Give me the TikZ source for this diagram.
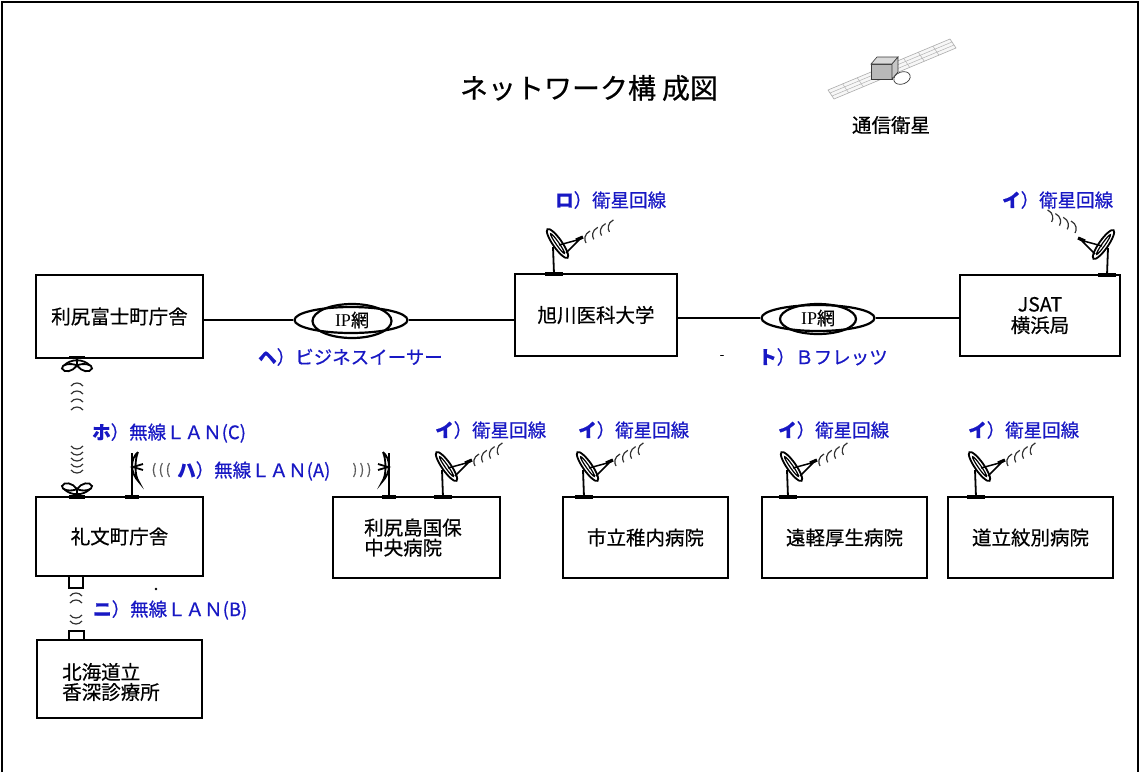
\documentclass[tikz,border=0pt]{standalone}
\usepackage{fontspec}
\setmainfont{Noto Sans CJK JP}[FakeBold=0.5]
\newfontfamily\serifip{Liberation Serif}
\usetikzlibrary{shapes.geometric}
\definecolor{lblue}{RGB}{24,24,196}
\definecolor{sigc}{RGB}{50,50,50}
\begin{document}
\begin{tikzpicture}[x=1pt,y=-1pt,
  box/.style={draw, line width=2.2pt, minimum width=#1, inner sep=0pt, align=center, font=\fontsize{19.5}{24}\selectfont},
  boxh/.style={minimum height=#1},
  lbl/.style={text=lblue, anchor=west, inner sep=0pt, font=\fontsize{18.5}{22}\selectfont},
  txt/.style={inner sep=0pt, font=\fontsize{19.5}{22}\selectfont},
  conn/.style={line width=2.2pt},
  ipnet/.style={ellipse, draw, line width=2.2pt, minimum width=113pt, minimum height=26pt, inner sep=0pt},
  plate/.style={line width=3.2pt},
  ant/.style={line width=1.8pt},
  wave/.style={sigc, line width=1.2pt},
  dish/.pic={
    \draw[plate] (-9,0) -- (9,0);
    \draw[ant] (0,0) -- (-1,-27);
    \draw[line width=1.8pt, fill=white, rotate around={-55:(3.5,-30.5)}] (3.5,-30.5) ellipse (17.5pt and 4.5pt);
    \draw[line width=1.2pt, rotate around={-55:(3.5,-30.5)}] (3.5,-30.5) ellipse (12pt and 1.5pt);
    \draw[line width=1.5pt] (5,-29) -- (27,-35) (12,-21) -- (25,-34);
    \draw[plate] (22,-34) -- (29,-37);
  },
  sig/.pic={
    \foreach \i in {0,...,3}
      \draw[wave, shift={(33+7.8*\i,-37-3.7*\i)}] (3,-6) .. controls (-3,-3) and (-3,3) .. (-1,6);
  },
  petal/.pic={
    \draw[plate] (-8,0) -- (8,0);
    \draw[ant] (0,0) -- (0,7);
    \draw[ant] (-13,8) .. controls (-6,1) and (6,1) .. (13,8);
    \draw[ant] (0,8) .. controls (-6,5) and (-16,7) .. (-15,11) .. controls (-13,16) and (-4,14) .. (0,8);
    \draw[ant] (0,8) .. controls (6,5) and (16,7) .. (15,11) .. controls (13,16) and (4,14) .. (0,8);
  },
  flag/.pic={
    \draw[plate] (-7,0) -- (7,0);
    \draw[ant] (0,0) -- (0,-44);
    \draw[ant] (6,-45) .. controls (-2,-38) and (-2,-24) .. (7,-15)
               .. controls (2,-22) and (3,-38) .. (6,-45);
    \draw[ant] (11,-33) -- (1,-30) -- (11,-27);
  },
  capup/.pic={\draw[wave] (-6,2) .. controls (-3,-2) and (3,-2) .. (6,2);},
  capdown/.pic={\draw[wave] (-6,-2) .. controls (-3,2) and (3,2) .. (6,-2);}
]
\useasboundingbox (0,0) rectangle (1140,772);
\fill[white] (0,0) rectangle (1140,772);

% outer frame
\draw[line width=1.8pt] (2,772) -- (2,2) -- (1138,2) -- (1138,772);

% title
\node[inner sep=0pt, font=\fontsize{28}{32}\selectfont] (title) at (589,88) {ネットワーク構\hspace{6pt}成図};

% communications satellite
\filldraw[fill=gray!6, draw=gray!65, line width=0.6pt] (828,90) -- (950,39) -- (956,48) -- (834,99) -- cycle;
\draw[gray!60, line width=0.5pt] (830,93) -- (952,42) (832,96) -- (954,45);
\foreach \t in {0.12,0.24,0.36,0.62,0.74,0.86}
  \draw[gray!60, line width=0.5pt] (828+122*\t,90-51*\t) -- (834+122*\t,99-51*\t);
\filldraw[fill=gray!55, draw=gray!45!black, line width=0.6pt] (871,64) rectangle (892,79);
\filldraw[fill=gray!30, draw=gray!45!black, line width=0.6pt] (871,64) -- (877,57) -- (898,57) -- (892,64) -- cycle;
\filldraw[fill=gray!45, draw=gray!45!black, line width=0.6pt] (892,64) -- (898,57) -- (898,72) -- (892,79) -- cycle;
\filldraw[fill=white, draw=gray!45!black, line width=0.7pt, rotate around={20:(902,78)}] (902,78) ellipse (8.5pt and 6pt);
\node[txt] (satlbl) at (891,125) {通信衛星};

% sites
\node[box=167pt, boxh=83pt] (rishirifuji) at (119.5,316.5) {利尻富士町庁舎};
\node[box=162pt, boxh=82pt] (asahikawa) at (596,315) {旭川医科大学};
\node[box=160pt, boxh=81pt] (jsat) at (1040,315.5) {JSAT\\[-3pt]横浜局};
\node[box=167pt, boxh=79pt] (rebun) at (119.5,536.5) {礼文町庁舎};
\node[box=167pt, boxh=81pt] (rishiritou) at (416.5,537.5) {};
\node[txt, anchor=west, align=left] (rishiritout) at (364,537.5) {利尻島国保\\[-2pt]中央病院};
\node[box=165pt, boxh=81pt] (wakkanai) at (645.5,537.5) {市立稚内病院};
\node[box=165pt, boxh=81pt] (engaru) at (844.5,537.5) {遠軽厚生病院};
\node[box=165pt, boxh=81pt] (monbetsu) at (1030.5,537.5) {道立紋別病院};
\node[box=165pt, boxh=78pt] (kafuka) at (119.5,679) {};
\node[txt, anchor=west, align=left] (kafukat) at (62,682) {北海道立\\[-2pt]香深診療所};

% IP networks
\node[ipnet] (ip1) at (351,320) {};
\draw[line width=2.2pt] (352,321) ellipse (39.5pt and 17pt);
\node[inner sep=0pt, font=\fontsize{18}{20}\selectfont] (ip1t) at (352,320) {{\serifip IP}網};
\node[ipnet] (ip2) at (818,318) {};
\draw[line width=2.2pt] (818,319) ellipse (38pt and 15pt);
\node[inner sep=0pt, font=\fontsize{18}{20}\selectfont] (ip2t) at (818,318) {{\serifip IP}網};

\draw[conn] (ip1.west) -- (ip1.west -| rishirifuji.east);
\draw[conn] (ip1.east) -- (ip1.east -| asahikawa.west);
\draw[conn] (ip2.west) -- (ip2.west -| asahikawa.east);
\draw[conn] (ip2.east) -- (ip2.east -| jsat.west);

% satellite dishes
\pic at (554,274) {dish};
\pic at (554,274) {sig};
\pic[xscale=-1] at (1107,275) {dish};
\pic[xscale=-1] at (1107,264) {sig};
\pic at (443,497) {dish};
\pic at (443,497) {sig};
\pic at (584,497) {dish};
\pic at (584,497) {sig};
\pic at (788,497) {dish};
\pic at (788,497) {sig};
\pic at (976,497) {dish};
\pic at (976,497) {sig};

% wireless LAN (C)
\pic at (77,357.5) {petal};
\pic[yscale=-1] at (77,497) {petal};
\foreach \y in {384,392,400,408} \pic at (77,\y) {capup};
\foreach \y in {448,454,460,466,472} \pic at (77,\y) {capdown};

% wireless LAN (A)
\pic at (132,497) {flag};
\pic[xscale=-1] at (389,497) {flag};
\node[inner sep=0pt, text=gray!70!black, font=\fontsize{14}{16}\selectfont] (wa1) at (161,470) {(\,(\,(};
\node[inner sep=0pt, text=gray!70!black, font=\fontsize{14}{16}\selectfont] (wa2) at (362,470) {)\,)\,)};

% wireless LAN (B)
\draw[line width=2pt] (69,576) rectangle (83,588);
\draw[line width=2pt] (69,631) rectangle (84,640);
\pic at (76,594) {capup};
\pic at (76,601) {capup};
\pic at (76,617) {capdown};
\pic at (76,623) {capdown};
\fill (156,589) circle (1.4pt);

% line labels
\node[lbl] (l_ro) at (555,200) {\textbf{ロ}）衛星回線};
\node[lbl] (l_i0) at (1002,200) {\textbf{イ}）衛星回線};
\node[lbl] (l_he) at (258,357) {\textbf{ヘ}）ビジネスイーサー};
\node[inner sep=0pt, font=\fontsize{12}{14}\selectfont] (dash) at (722,357) {-};
\node[lbl] (l_to) at (758,357) {\textbf{ト}）Ｂフレッツ};
\node[lbl] (l_ho) at (92,433) {\textbf{ホ}）無線ＬＡＮ(C)};
\node[lbl] (l_ha) at (177,471) {\textbf{ハ}）無線ＬＡＮ(A)};
\node[lbl] (l_ni) at (93,610) {\textbf{ニ}）無線ＬＡＮ(B)};
\node[lbl] (l_i1) at (435,430) {\textbf{イ}）衛星回線};
\node[lbl] (l_i2) at (578,430) {\textbf{イ}）衛星回線};
\node[lbl] (l_i3) at (778,430) {\textbf{イ}）衛星回線};
\node[lbl] (l_i4) at (968,430) {\textbf{イ}）衛星回線};
\end{tikzpicture}
\end{document}
